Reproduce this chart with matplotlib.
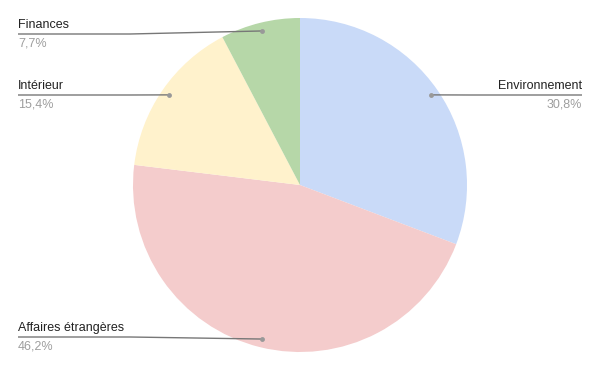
import matplotlib
matplotlib.use("Agg")
import matplotlib.pyplot as plt
import numpy as np

# Data
labels = ["Environnement", "Affaires étrangères", "Intérieur", "Finances"]
values = [4, 6, 2, 1]
colors = ["#c9daf8", "#f4cccc", "#fff2cc", "#b6d7a8"]

W, H = 600, 371
CX, CY, R = 300, 185, 167

fig = plt.figure(figsize=(W / 100, H / 100), dpi=100)
ax = fig.add_axes([0, 0, 1, 1])

# y axis is inverted below, so counterclock=True draws clockwise on screen
wedges, _ = ax.pie(values, colors=colors, startangle=-90, counterclock=True,
                   center=(CX, CY), radius=R, frame=True,
                   wedgeprops=dict(linewidth=0))
ax.set_xlim(0, W)
ax.set_ylim(H, 0)
ax.set_aspect("equal")
ax.axis("off")

# label layout: (line y, side)
layout = {
    "Environnement": (95, "right"),
    "Affaires étrangères": (337, "left"),
    "Intérieur": (95, "left"),
    "Finances": (34, "left"),
}

total = sum(values)
font = "Liberation Sans"
for w, lab, v in zip(wedges, labels, values):
    mid = np.deg2rad((w.theta1 + w.theta2) / 2)
    dx = CX + 0.95 * R * np.cos(mid)
    dy = CY + 0.95 * R * np.sin(mid)
    ly, side = layout[lab]
    pct = f"{100 * v / total:.1f}%".replace(".", ",")
    if side == "left":
        x0 = 18
        xs = [x0, min(130, dx), dx]
        ha = "left"
    else:
        x0 = 582
        xs = [x0, max(470, dx), dx]
        ha = "right"
    ax.plot(xs, [ly, ly, dy], color="#777777", lw=1, solid_capstyle="butt")
    ax.plot(dx, dy, "o", color="#999999", ms=3.5, mec="none")
    ax.text(x0, ly - 3, lab, ha=ha, va="bottom", fontsize=9,
            family=font, color="#222222")
    ax.text(x0, ly + 3.5, pct, ha=ha, va="top", fontsize=9,
            family=font, color="#9e9e9e")

fig.savefig("out.png", dpi=100)
